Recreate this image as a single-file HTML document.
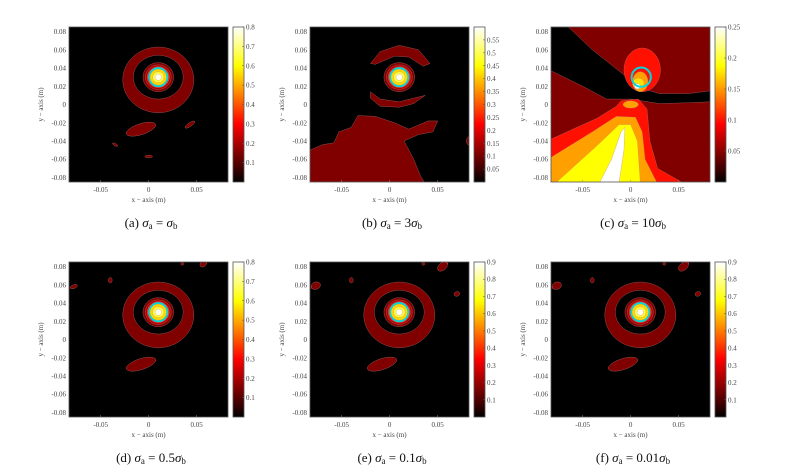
<!DOCTYPE html>
<html><head><meta charset="utf-8">
<style>
html,body{margin:0;padding:0;background:#fff;}
svg{display:block;font-family:"Liberation Serif",serif;}
.tk{font-size:7px;fill:#444;}
.cap{font-size:13px;fill:#111;}
</style></head>
<body>
<svg id="fig" width="789" height="475" viewBox="0 0 789 475" xmlns="http://www.w3.org/2000/svg">
<defs>
<linearGradient id="hot" x1="0" y1="1" x2="0" y2="0">
<stop offset="0" stop-color="#000"/><stop offset="0.08" stop-color="#3a0000"/><stop offset="0.375" stop-color="#ff0000"/><stop offset="0.75" stop-color="#ffff00"/><stop offset="1" stop-color="#ffffff"/>
</linearGradient>
</defs>
</svg>
<script>
const xTicks=[-0.05,0,0.05];
const xTickLabels=["-0.05","0","0.05"];
const yTicks=[0.08,0.06,0.04,0.02,0,-0.02,-0.04,-0.06,-0.08];
const yTickLabels=["0.08","0.06","0.04","0.02","0","-0.02","-0.04","-0.06","-0.08"];
const panelLefts=[69,310,551,69,310,551];
const panelTops=[27,27,27,262,262,262];
const cbMax=[0.8,0.6,0.25,0.8,0.9,0.9];
const cbTicksA=[0.1,0.2,0.3,0.4,0.5,0.6,0.7,0.8];
const cbTicksB=[0.05,0.1,0.15,0.2,0.25,0.3,0.35,0.4,0.45,0.5,0.55];
const cbTicksC=[0.05,0.1,0.15,0.2,0.25];
const cbTicksE=[0.1,0.2,0.3,0.4,0.5,0.6,0.7,0.8,0.9];
const cbTicks=[cbTicksA,cbTicksB,cbTicksC,cbTicksA,cbTicksE,cbTicksE];
const captions=[["(a)",""],["(b)","3"],["(c)","10"],["(d)","0.5"],["(e)","0.1"],["(f)","0.01"]];
const W=159,H=155,X0=-0.083,Y1=0.085,SX=960,SY=912;
const NS="http://www.w3.org/2000/svg";
const svg=document.getElementById('fig');
function mk(tag,attrs,parent){const e=document.createElementNS(NS,tag);for(const k in attrs)e.setAttribute(k,attrs[k]);(parent||svg).appendChild(e);return e;}
const DR="#800000";
function panel(i){
  const L=panelLefts[i],T=panelTops[i];
  const g=mk('g',{});
  
  
  const px=x=>L+(x-X0)*SX, py=y=>T+(Y1-y)*SY;
  const clip=mk('clipPath',{id:'c'+i},g);mk('rect',{x:L,y:T,width:W,height:H},clip);
  const p=mk('g',{'clip-path':'url(#c'+i+')'},g);
  const poly=(pts,fill)=>mk('polygon',{points:pts.map(q=>px(q[0])+','+py(q[1])).join(' '),fill:fill,stroke:'#c08080','stroke-width':0.3},p);
  const ell=(cx,cy,rx,ry,rot,fill)=>mk('ellipse',{cx:px(cx),cy:py(cy),rx:rx*SX,ry:ry*SY,fill:fill,transform:`rotate(${rot} ${px(cx)} ${py(cy)})`,stroke:'#c08080','stroke-width':0.3},p);
  const field=mk('rect',{x:L,y:T,width:W,height:H,fill:i===2?DR:'#000'},p);
  
  
  const spot=(cx,cy)=>{ell(cx,cy,0.016,0.016,0,DR);ell(cx,cy,0.0135,0.0135,0,"#b00000");ell(cx,cy,0.0115,0.0115,0,"#ff2000");
    ell(cx,cy,0.0102,0.0102,0,"#ff9000");
    ell(cx,cy,0.0088,0.0088,0,"#ffd800");ell(cx,cy,0.006,0.006,0,"#ffff40");ell(cx,cy,0.0035,0.0035,0,"#fffff0");
    mk('circle',{cx:px(cx),cy:py(cy),r:0.0095*SX,fill:'none',stroke:'#00d8e0','stroke-width':1.8},p);};
  if(i===0||i>=3){
    ell(0.01,0.027,0.037,0.036,0,DR);ell(0.01,0.03,0.026,0.024,0,"#000");
    ell(-0.008,-0.027,0.016,0.006,-18,DR);
    if(i===0){ell(0.043,-0.022,0.006,0.002,-35,DR);ell(-0.035,-0.044,0.003,0.0012,30,DR);ell(0,-0.057,0.004,0.0015,0,DR);}
    else{ell(-0.078,0.058,0.004,0.002,-20,DR);ell(-0.04,0.065,0.002,0.003,0,DR);ell(0.057,0.083,0.004,0.003,-40,DR);ell(0.035,0.083,0.0015,0.0015,0,DR);
      if(i>3){ell(-0.077,0.059,0.005,0.004,-20,DR);ell(0.07,0.05,0.003,0.0025,-20,DR);ell(0.055,0.08,0.006,0.004,-40,DR);}}
    spot(0.01,0.03);
  } else if(i===1){
    poly([[-0.02,0.045],[-0.01,0.058],[0.01,0.065],[0.03,0.06],[0.042,0.045],[0.035,0.042],[0.02,0.052],[0.005,0.053],[-0.015,0.044]],DR);
    poly([[-0.02,0.014],[-0.01,0.006],[0.01,0.003],[0.025,0.007],[0.037,0.01],[0.025,0.001],[0.01,-0.003],[-0.01,-0.002],[-0.02,0.007]],DR);
    poly([[-0.083,-0.05],[-0.07,-0.044],[-0.058,-0.042],[-0.053,-0.03],[-0.04,-0.025],[-0.033,-0.012],[-0.015,-0.013],[0.005,-0.02],[0.02,-0.027],[0.04,-0.018],[0.05,-0.018],[0.045,-0.03],[0.03,-0.033],[0.015,-0.04],[0.025,-0.06],[0.032,-0.078],[0.036,-0.085],[-0.083,-0.085]],DR);
    ell(0.083,-0.04,0.003,0.005,0,DR);
    spot(0.01,0.03);
  } else {
    poly([[-0.083,0.085],[-0.065,0.085],[-0.04,0.06],[-0.01,0.035],[0.01,0.018],[0.03,0.012],[0.06,0.012],[0.083,0.015],[0.083,0.003],[0.06,0.002],[0.03,0.001],[0.0,0.006],[-0.025,0.006],[-0.05,0.02],[-0.083,0.037]],"#000");
    ell(0.012,0.038,0.019,0.024,0,"#ff1000");
    poly([[-0.083,-0.038],[-0.035,-0.015],[-0.015,-0.002],[-0.01,0.004],[0.008,0.006],[0.017,-0.005],[0.02,-0.04],[0.028,-0.07],[0.053,-0.085],[-0.083,-0.085]],"#ff1000");
    ell(0.0,0.0,0.008,0.004,0,"#ffa000");
    poly([[-0.083,-0.058],[-0.04,-0.03],[-0.015,-0.013],[0.005,-0.014],[0.012,-0.03],[0.015,-0.06],[0.027,-0.085],[-0.083,-0.085]],"#ffa000");
    poly([[-0.077,-0.085],[-0.035,-0.045],[-0.012,-0.022],[0.0,-0.022],[0.007,-0.04],[0.01,-0.085]],"#ffff00");
    poly([[-0.032,-0.085],[-0.02,-0.06],[-0.01,-0.03],[-0.006,-0.025],[-0.007,-0.05],[-0.012,-0.085]],"#ffffff");
    ell(0.01,0.025,0.008,0.011,0,"#ffa000");ell(0.008,0.023,0.006,0.006,0,"#ffe000");ell(0.007,0.02,0.003,0.003,0,"#fff");
    mk('circle',{cx:px(0.011),cy:py(0.03),r:0.01*SX,fill:'none',stroke:'#00d8e0','stroke-width':2},p);
  }
  mk('rect',{x:L,y:T,width:W,height:H,fill:'none',stroke:'#555','stroke-width':0.8},g);
  xTicks.forEach((v,k)=>{mk('line',{x1:px(v),x2:px(v),y1:T+H,y2:T+H-2,stroke:'#888','stroke-width':0.5},g);
    const t=mk('text',{x:px(v),y:T+H+10,'text-anchor':'middle',class:'tk'},g);t.textContent=xTickLabels[k];
    
    });
  yTicks.forEach((v,k)=>{const t=mk('text',{x:L-3,y:py(v)+2.5,'text-anchor':'end',class:'tk'},g);t.textContent=yTickLabels[k];
    
    });
  const xt=mk('text',{x:L+W/2,y:T+H+20,'text-anchor':'middle',class:'tk'},g);xt.textContent='x − axis (m)';
  
  
  const yt=mk('text',{x:0,y:0,'text-anchor':'middle',class:'tk',transform:`translate(${L-26},${T+H/2}) rotate(-90)`},g);yt.textContent='y − axis (m)';
  
  
  const cx=L+W+5;
  const cb=mk('rect',{x:cx,y:T,width:11,height:H,fill:'url(#hot)',stroke:'#555','stroke-width':0.8},g);
  
  
  cbTicks[i].forEach(v=>{const yy=T+H*(1-v/cbMax[i]);
    mk('line',{x1:cx+11,x2:cx+9,y1:yy,y2:yy,stroke:'#555','stroke-width':0.5},g);
    const t=mk('text',{x:cx+13,y:yy+2.5,class:'tk'},g);t.textContent=String(v);
    
    });
  const c=mk('text',{x:L+82,y:T+H+45,'text-anchor':'middle',class:'cap'},g);
  
  
  const cap=captions[i];
  c.innerHTML=`${cap[0]}  <tspan font-style="italic">σ</tspan><tspan font-size="9" dy="2">a</tspan><tspan dy="-2"> = ${cap[1]}</tspan><tspan font-style="italic">σ</tspan><tspan font-size="9" dy="2">b</tspan>`;
}
for(let i=0;i<6;i++)panel(i);
</script>
</body></html>
